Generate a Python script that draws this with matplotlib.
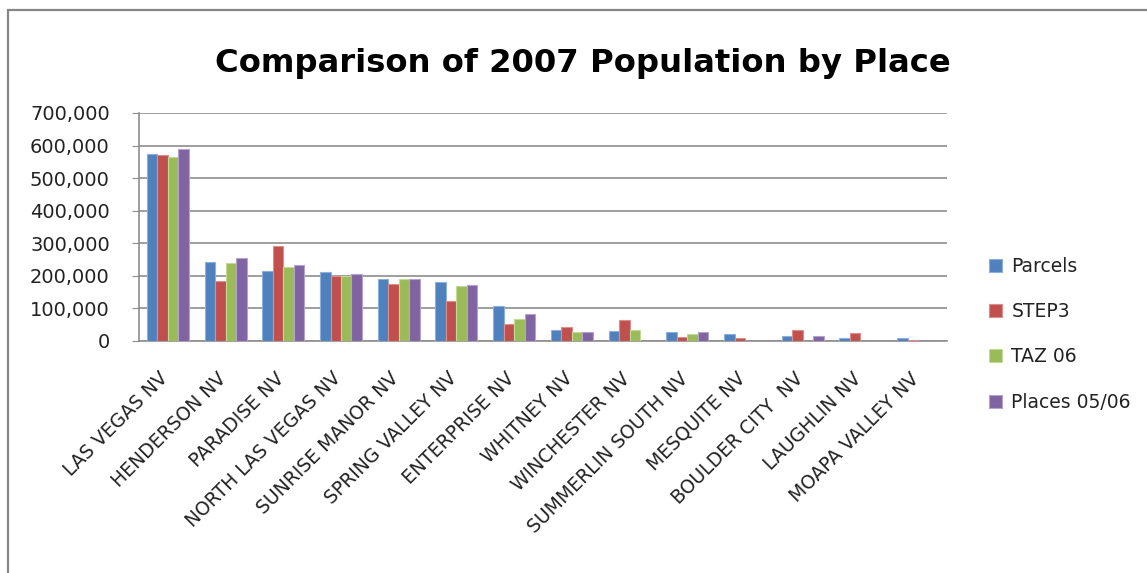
import numpy as np
import matplotlib.pyplot as plt
import matplotlib.transforms as mtransforms
from matplotlib.patches import Rectangle
from matplotlib.ticker import FuncFormatter

places = ["LAS VEGAS NV", "HENDERSON NV", "PARADISE NV", "NORTH LAS VEGAS NV",
          "SUNRISE MANOR NV", "SPRING VALLEY NV", "ENTERPRISE NV", "WHITNEY NV",
          "WINCHESTER NV", "SUMMERLIN SOUTH NV", "MESQUITE NV", "BOULDER CITY  NV",
          "LAUGHLIN NV", "MOAPA VALLEY NV"]
series_names = ["Parcels", "STEP3", "TAZ 06", "Places 05/06"]

# population estimates per place (nan = no value in that source)
parcels = [574000, 244000, 215000, 211000, 190000, 180000, 107000, 34000, 30000, 27000, 20000, 15000, 8000, 8000]
step3 = [571000, 183000, 291000, 201000, 175000, 124000, 52000, 42000, 64000, 12000, 8000, 33000, 26000, 4000]
taz06 = [564000, 241000, 227000, 199000, 190000, 168000, 67000, 27000, 34000, 20000, np.nan, np.nan, np.nan, np.nan]
places0506 = [589000, 255000, 233000, 205000, 190000, 171000, 82000, 27000, np.nan, 27000, np.nan, 15000, np.nan, np.nan]

colors = ["#4F81BD", "#C0504D", "#9BBB59", "#8064A2"]
edges = ["#8DB0DB", "#DC8E8C", "#C3D99A", "#B3A2CC"]
grid_c = "#8E8E8E"

W, H = 1147, 573
fig = plt.figure(figsize=(W / 100, H / 100), dpi=100)
ax = fig.add_axes([139 / W, 1 - 341 / H, (947 - 139) / W, (341 - 113) / H])

# outer chart border
fig.patches.append(Rectangle((8 / W, -0.1), 1.2, 1 - 10 / H + 0.1, transform=fig.transFigure,
                             fill=False, edgecolor="#868686", linewidth=1.6))

x = np.arange(len(places)) + 0.5
w = 1 / 5.5
for i, (vals, name) in enumerate(zip([parcels, step3, taz06, places0506], series_names)):
    ax.bar(x + (i - 1.5) * w, vals, width=w, color=colors[i], edgecolor=edges[i],
           linewidth=0.8, label=name, zorder=3)

ax.set_xlim(0, len(places))
ax.set_ylim(0, 700000)
ax.set_yticks(np.arange(0, 700001, 100000))
ax.yaxis.set_major_formatter(FuncFormatter(lambda v, p: f"{int(v):,}"))
ax.yaxis.grid(True, color=grid_c, linewidth=1.2, zorder=0)
ax.set_axisbelow(True)
for s in ["top", "right"]:
    ax.spines[s].set_visible(False)
for s in ["left", "bottom"]:
    ax.spines[s].set_color(grid_c)
    ax.spines[s].set_linewidth(1.2)
ax.tick_params(axis="y", length=5, color=grid_c, labelsize=14, pad=16, labelcolor="#222222")
ax.tick_params(axis="x", length=0, pad=20)

ax.set_xticks(x)
ax.set_xticklabels(places, rotation=45, ha="right", va="top", rotation_mode="anchor",
                   fontsize=13.5, color="#222222")
shift = mtransforms.ScaledTranslation(-9 / 100, 0, fig.dpi_scale_trans)
for lbl in ax.get_xticklabels():
    lbl.set_transform(lbl.get_transform() + shift)

fig.text(583 / W, 1 - 72 / H, "Comparison of 2007 Population by Place", ha="center",
         va="baseline", fontsize=23.2, fontweight="bold", color="black")

leg = fig.legend(loc="upper left", bbox_to_anchor=(972 / W, 1 - 240 / H), frameon=False,
                 fontsize=13.5, handlelength=0.7, handleheight=0.7, handletextpad=0.5,
                 labelspacing=1.4, labelcolor="#222222")

fig.savefig("out.png", dpi=100)
